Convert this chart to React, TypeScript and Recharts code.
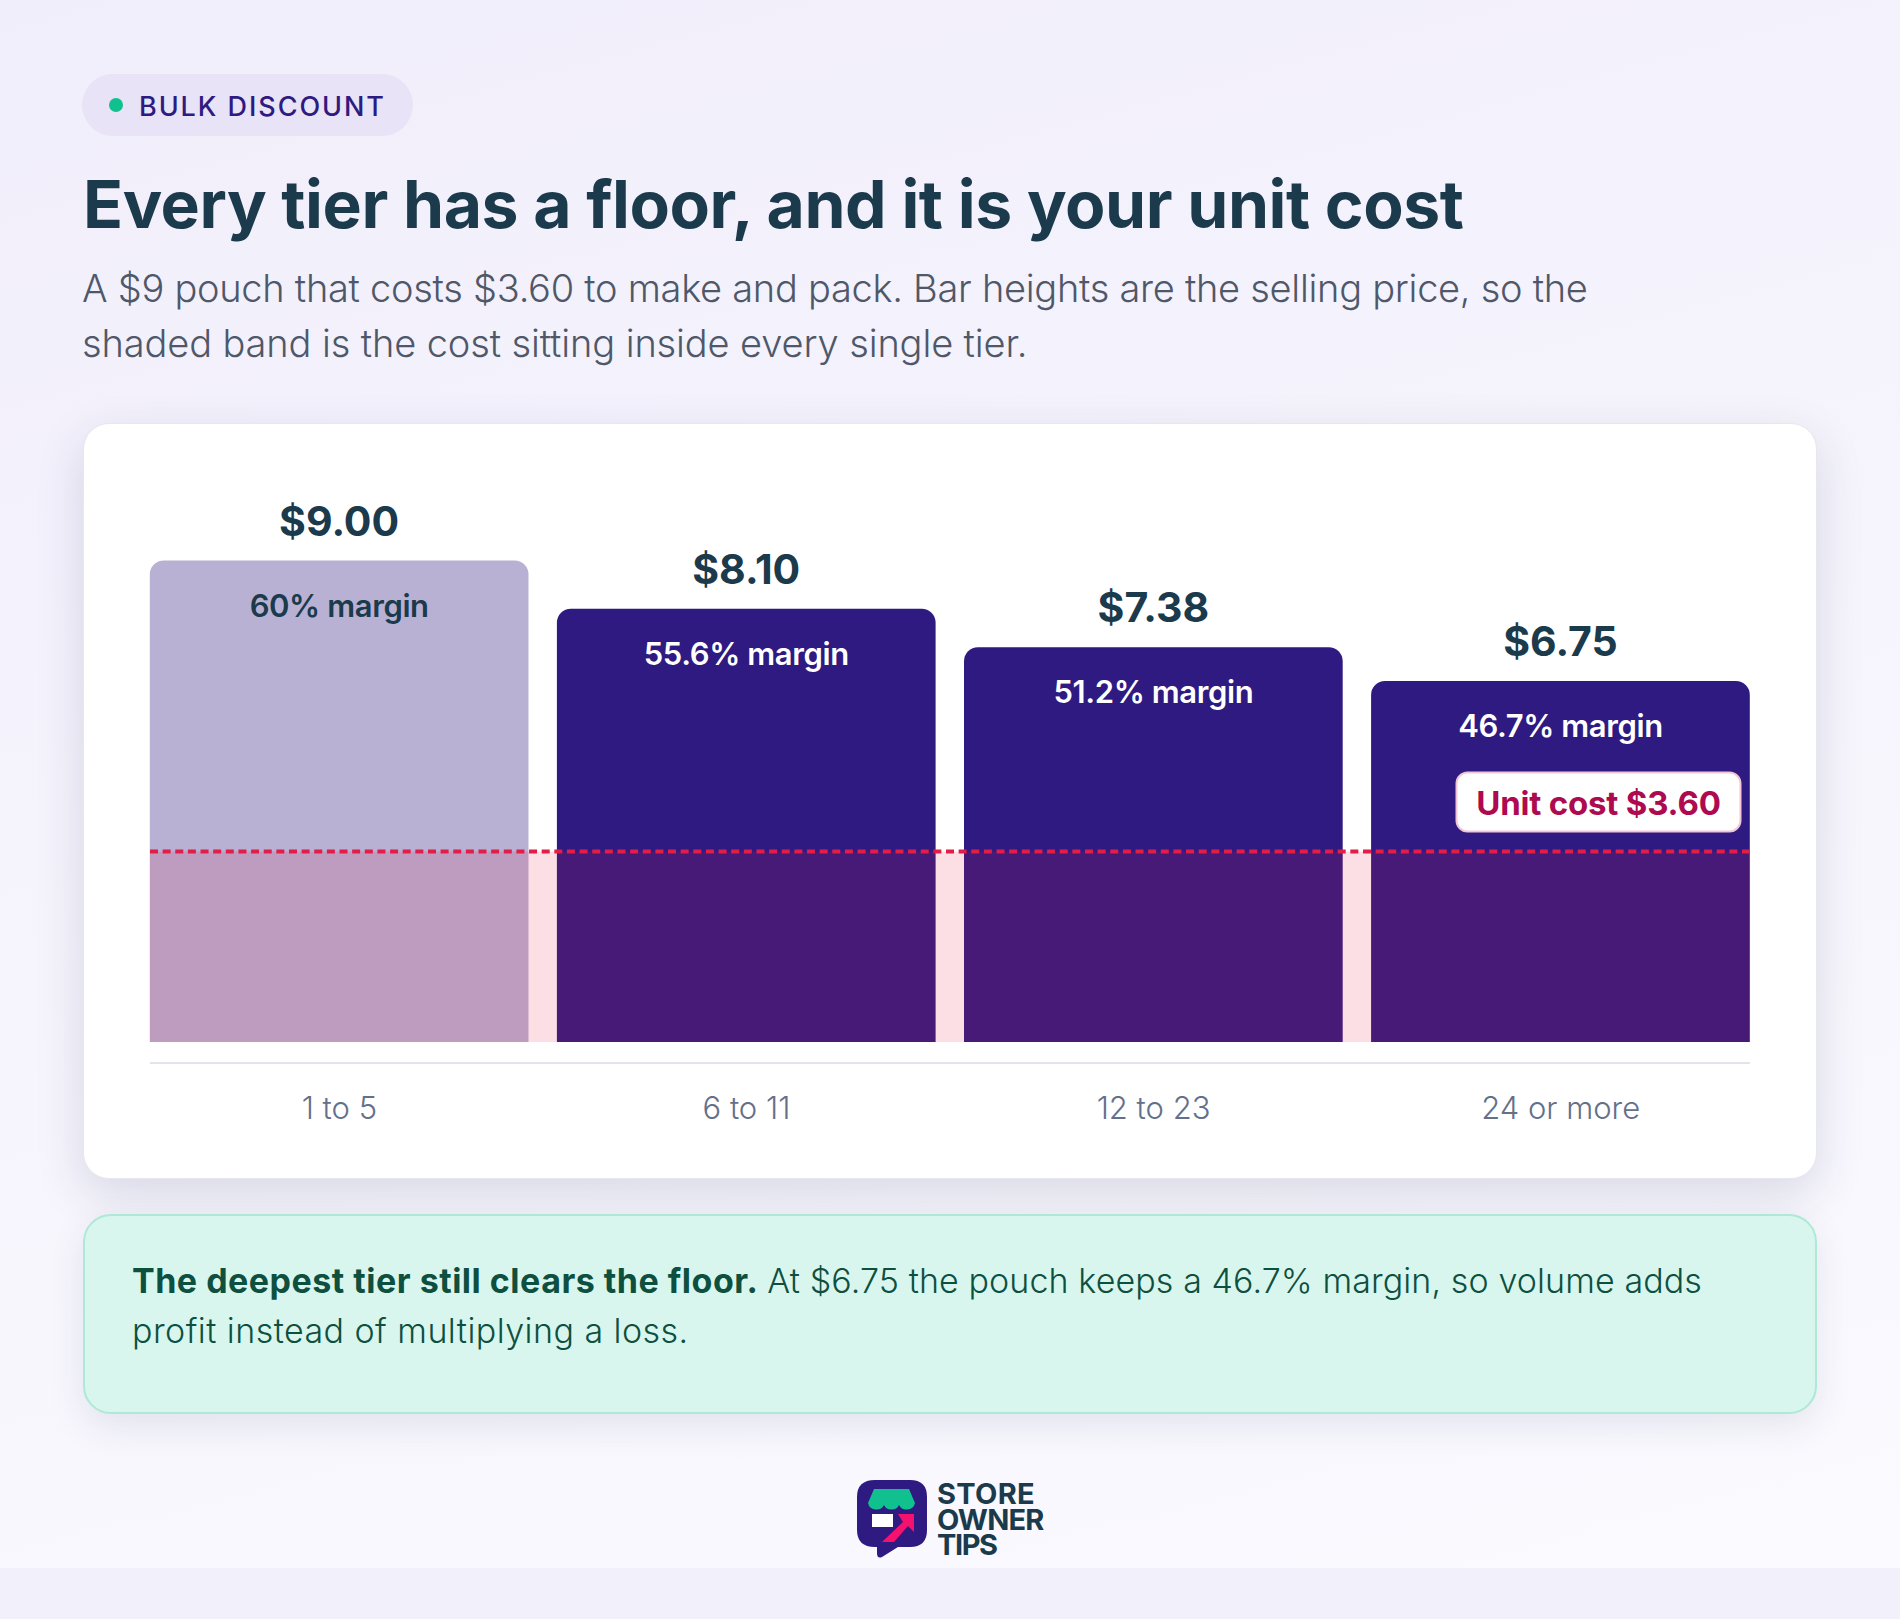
import { BarChart, Bar, Cell, XAxis, YAxis, LabelList, ReferenceArea, ReferenceLine } from 'recharts';

const tiers = ['1 to 5', '6 to 11', '12 to 23', '24 or more'];
const prices = [9.0, 8.1, 7.38, 6.75];
const margins = ['60% margin', '55.6% margin', '51.2% margin', '46.7% margin'];
const unitCost = 3.56;
const axisFloor = -0.3925;
const axisTop = 10;

const data = tiers.map((tier, i) => ({ tier, price: prices[i], margin: margins[i] }));

const FONT = 'Inter, sans-serif';
const INK = '#1b3a4b';
const PURPLE = '#2e1a80';
const RED = '#e11d48';

function MarginLabel(props: any) {
  const { x, y, width, index, value } = props;
  return (
    <text
      x={x + width / 2}
      y={y + 56}
      textAnchor="middle"
      fontFamily={FONT}
      fontSize={31}
      fontWeight={600}
      letterSpacing={-0.4}
      fill={index === 0 ? INK : '#ffffff'}
    >
      {value}
    </text>
  );
}

function UnitCostTag(props: any) {
  const { viewBox } = props;
  const right = viewBox.x + viewBox.width - 8.5;
  const top = viewBox.y - 79;
  return (
    <g>
      <rect x={right - 285} y={top} width={284} height={59} rx={11} fill="#ffffff" stroke="#f3c6d6" strokeWidth={2} />
      <text x={right - 143} y={top + 42} textAnchor="middle" fontFamily={FONT} fontSize={33} fontWeight={700} letterSpacing={-0.2} fill="#ad0a4f">
        Unit cost $3.60
      </text>
    </g>
  );
}

function Logo() {
  return (
    <svg width={120} height={90} viewBox="0 0 120 90" style={{ position: 'absolute', left: 850, top: 1474 }}>
      <path d="M25 6 H60 Q77 6 77 23 V56 Q77 73 60 73 H48 L32 83 Q27 85 27 79 V73 H25 Q7 73 7 56 V23 Q7 6 25 6 Z" fill={PURPLE} />
      <path d="M24 15 H59 L65 29 A8.5 8 0 0 1 49 31 A8 7 0 0 1 34 31 A8.5 8 0 0 1 18 29 Z" fill="#10c08f" />
      <rect x={22} y={40} width={21} height={13} fill="#ffffff" />
      <path d="M32 68 L53 48 L48 40 L64 40 L64 58 L58 52 L44 68 Z" fill="#f5126f" />
    </svg>
  );
}

export default function App() {
  return (
    <div
      style={{
        position: 'absolute',
        left: 0,
        top: 0,
        width: 1900,
        height: 1619,
        overflow: 'hidden',
        fontFamily: FONT,
        background: 'linear-gradient(165deg, #f1eefb 0%, #f6f5fd 50%, #fbfaff 100%)',
      }}
    >
      <div style={{ position: 'absolute', left: 0, top: 1568, width: 1900, height: 51, background: '#f2f1fb' }} />

      <div style={{ position: 'absolute', left: 82, top: 74, width: 331, height: 62, borderRadius: 31, background: '#e8e3f6' }} />
      <div style={{ position: 'absolute', left: 109, top: 98, width: 14, height: 14, borderRadius: 7, background: '#10c08f' }} />
      <div style={{ position: 'absolute', left: 139, top: 89, fontSize: 27, lineHeight: '36px', fontWeight: 500, letterSpacing: 1.95, color: PURPLE, whiteSpace: 'nowrap' }}>
        BULK DISCOUNT
      </div>

      <div style={{ position: 'absolute', left: 83, top: 164, fontSize: 66, lineHeight: '80px', fontWeight: 700, letterSpacing: -0.45, color: INK, whiteSpace: 'nowrap' }}>
        Every tier has a floor, and it is your unit cost
      </div>
      <div style={{ position: 'absolute', left: 82, top: 261, fontSize: 38, lineHeight: '55px', fontWeight: 300, letterSpacing: -0.28, color: '#4f5869', whiteSpace: 'nowrap' }}>
        A $9 pouch that costs $3.60 to make and pack. Bar heights are the selling price, so the
      </div>
      <div style={{ position: 'absolute', left: 82, top: 316, fontSize: 38, lineHeight: '55px', fontWeight: 300, letterSpacing: -0.12, color: '#4f5869', whiteSpace: 'nowrap' }}>
        shaded band is the cost sitting inside every single tier.
      </div>

      <div
        style={{
          position: 'absolute',
          left: 83,
          top: 423,
          width: 1734,
          height: 756,
          boxSizing: 'border-box',
          borderRadius: 26,
          background: '#ffffff',
          border: '1px solid #e7e7ef',
          boxShadow: '0 16px 48px rgba(40,45,90,0.15)',
        }}
      />
      <div style={{ position: 'absolute', left: 84, top: 423 }}>
        <BarChart
          width={1732}
          height={755}
          data={data}
          margin={{ top: 84, right: 66, bottom: 55, left: 66 }}
          barSize={378.7}
        >
          <XAxis
            dataKey="tier"
            height={60}
            padding={{ left: -14.2, right: -14.2 }}
            axisLine={{ stroke: '#e3e3eb', strokeWidth: 2 }}
            tickLine={false}
            tickMargin={28}
            tick={{ fontFamily: FONT, fontSize: 31, fontWeight: 300, fill: '#64708a' }}
          />
          <YAxis hide domain={[axisFloor, axisTop]} />
          <Bar dataKey="price" radius={[14, 14, 0, 0]} isAnimationActive={false}>
            {tiers.map((tier, i) => (
              <Cell key={tier} fill={PURPLE} fillOpacity={i === 0 ? 0.34 : 1} />
            ))}
            <LabelList
              dataKey="price"
              position="top"
              offset={25}
              formatter={(v: any) => '$' + Number(v).toFixed(2)}
              style={{ fontFamily: FONT, fontSize: 41, fontWeight: 700, fill: INK }}
            />
            <LabelList dataKey="margin" content={<MarginLabel />} />
          </Bar>
          <ReferenceArea y1={0} y2={unitCost} fill={RED} fillOpacity={0.14} stroke="none" ifOverflow="hidden" zIndex={450} />
          <ReferenceLine
            y={unitCost}
            stroke={RED}
            strokeWidth={4}
            strokeDasharray="8 4.635"
            ifOverflow="hidden"
            zIndex={460}
            label={<UnitCostTag />}
          />
        </BarChart>
      </div>

      <div
        style={{
          position: 'absolute',
          left: 83,
          top: 1214,
          width: 1734,
          height: 200,
          boxSizing: 'border-box',
          borderRadius: 28,
          background: '#d9f6ee',
          border: '2px solid #aee8d6',
          boxShadow: '0 12px 36px rgba(40,45,90,0.1)',
        }}
      />
      <div style={{ position: 'absolute', left: 132, top: 1256, fontSize: 34, lineHeight: '50px', color: '#0d5040', whiteSpace: 'nowrap' }}>
        <span style={{ fontWeight: 700, letterSpacing: 0.5 }}>The deepest tier still clears the floor.</span>
        <span style={{ fontWeight: 300, letterSpacing: 0.1, marginLeft: 9 }}>At $6.75 the pouch keeps a 46.7% margin, so volume adds</span>
      </div>
      <div style={{ position: 'absolute', left: 132, top: 1306, fontSize: 34, lineHeight: '50px', fontWeight: 300, letterSpacing: 0.45, color: '#0d5040', whiteSpace: 'nowrap' }}>
        profit instead of multiplying a loss.
      </div>

      <Logo />
      <div style={{ position: 'absolute', left: 937, top: 1481, fontSize: 29, lineHeight: '25.5px', fontWeight: 700, color: INK }}>
        <span style={{ letterSpacing: 0.3 }}>STORE</span>
        <br />
        <span style={{ letterSpacing: -0.8 }}>OWNER</span>
        <br />
        <span style={{ letterSpacing: -1.4 }}>TIPS</span>
      </div>
    </div>
  );
}
